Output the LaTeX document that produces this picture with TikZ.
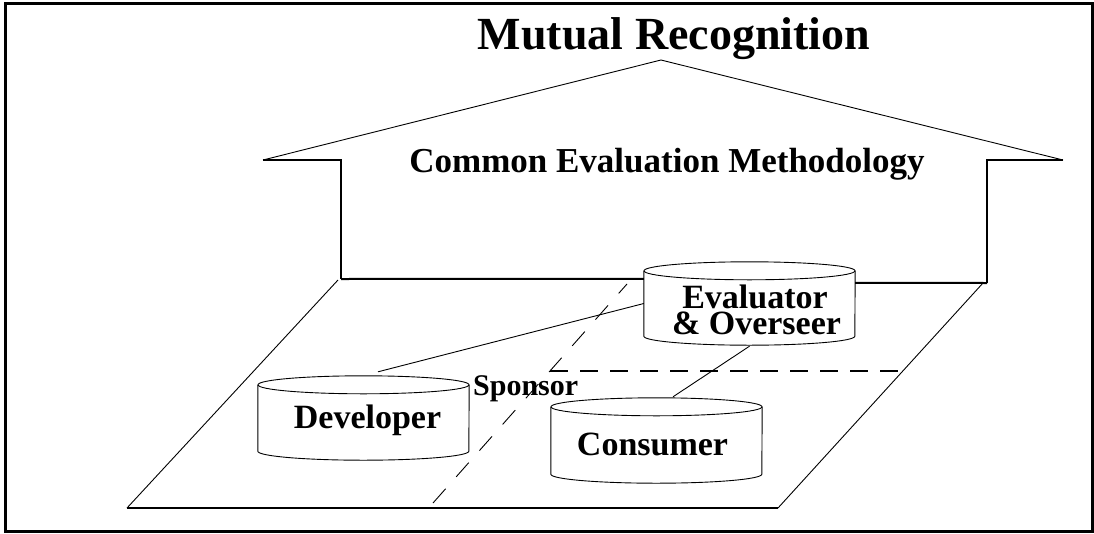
\documentclass[tikz,border=0pt]{standalone}
\usepackage{fontspec}
\setmainfont{Liberation Serif}
\usetikzlibrary{calc}

% outline of a drum (cylinder) around a named body node
\newcommand\drawdrum[1]{%
  \draw[thinline] (#1.north) ellipse [x radius=105.5pt, y radius=9pt];
  \draw[thinline] (#1.north west) -- (#1.south west)
    arc [start angle=180, end angle=360, x radius=105.5pt, y radius=9pt]
    -- (#1.north east);}

\begin{document}
\begin{tikzpicture}[x=1pt, y=-1pt,
  thickline/.style={line width=2pt},
  thinline/.style={line width=0.9pt},
  drum/.style={draw=none, inner sep=0pt, minimum width=211pt},
  lbl/.style={font=\fontsize{34}{23}\selectfont\bfseries, inner sep=0pt, anchor=base},
  tightlbl/.style={lbl, text height=23pt, text depth=0pt},
]
\useasboundingbox (0,0) rectangle (1094,533);

% frame
\draw[line width=3pt] (5.5,3.5) rectangle (1092.5,531.5);

% titles
\node[font=\fontsize{46}{50}\selectfont\bfseries, inner sep=0pt, anchor=base] (title) at (674,49) {Mutual Recognition};
\node[font=\fontsize{35}{40}\selectfont\bfseries, inner sep=0pt, anchor=base] (cem) at (667,172) {Common Evaluation Methodology};

% roof and walls of the house
\draw[thinline] (263,160) -- (661,60) -- (1063,160);
\draw[thickline] (263,160) -- (341,160) -- (341,279);
\draw[thickline] (1063,160) -- (987,160) -- (987,283);

% ground plane
\draw[thinline] (338,280) -- (127,508);
\draw[thickline] (127,508) -- (778,508);
\draw[thinline] (778,508) -- (983,283);

% dashed boundaries on the plane
\draw[thinline, dash pattern=on 19pt off 16pt] (433,503) -- (627,284);
\draw[thickline, dash pattern=on 18pt off 12pt] (550,371) -- (903,371);

% drums
\node[drum, minimum height=65pt] (eval) at (749.5,303.5) {};
\node[drum, minimum height=66pt] (dev) at (363.5,418) {};
\node[drum, minimum height=67pt] (cons) at (656.5,440.5) {};
\drawdrum{eval}
\drawdrum{dev}
\drawdrum{cons}

% labels
\node[tightlbl] (evaltext) at (755,308.5) {Evaluator};
\node[tightlbl] (overtext) at (756.5,334) {\& Overseer};
\node[lbl] (devtext) at (367.5,428) {Developer};
\node[lbl] (constext) at (652.5,455) {Consumer};
\node[font=\fontsize{30}{34}\selectfont\bfseries, inner sep=0pt, anchor=base west] (sponsor) at (473,395) {Sponsor};

% base of the house meeting the evaluator drum
\draw[thickline] (341,279) -- ($(eval.north west)+(0,8)$);
\draw[thickline] ($(eval.north east)+(0,12)$) -- (987,283);

% connectors
\draw[thinline] ($(dev.north)+(14.5,-13)$) -- (eval.west);
\draw[thinline] ($(eval.south)+(0,10)$) -- ($(cons.north)+(16.5,-10)$);
\end{tikzpicture}
\end{document}
